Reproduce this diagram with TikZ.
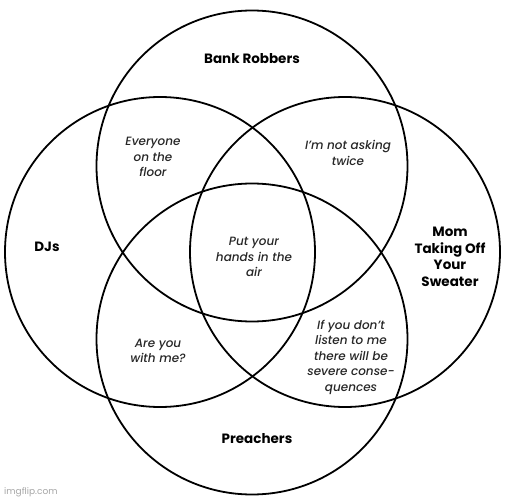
\documentclass[tikz,border=0pt]{standalone}
\usepackage{fontspec}
\setmainfont{Poppins}
\newfontfamily\zonefont{Poppins Medium Italic}
\begin{document}
\begin{tikzpicture}[x=1pt,y=-1pt,
  ring/.style={draw=black,line width=1.8pt},
  setlabel/.style={font=\fontsize{13.5}{16.5}\selectfont\bfseries,align=center,inner sep=0pt},
  zone/.style={font=\fontsize{12}{15.5}\zonefont,align=center,inner sep=0pt,text=black!85},
  wmark/.style={font=\fontsize{9}{11}\selectfont,text=black!35,inner sep=0pt}]
\useasboundingbox[fill=white] (0,0) rectangle (512,500);
\draw[ring] (252,166) circle[radius=155.5];
\draw[ring] (160,252) circle[radius=155];
\draw[ring] (345,252) circle[radius=155];
\draw[ring] (252,339) circle[radius=155.5];
\node[setlabel] (bank) at (252,59) {Bank Robbers};
\node[setlabel] (djs) at (47,247) {DJs};
\node[setlabel] (mom) at (450,257) {Mom\\Taking Off\\Your\\Sweater};
\node[setlabel] (preach) at (257,439) {Preachers};
\node[zone] (floor) at (153,157) {Everyone\\on the\\floor};
\node[zone] (twice) at (348,153) {I’m not asking\\twice};
\node[zone] (air) at (254,257) {Put your\\hands in the\\air};
\node[zone] (withme) at (158,351) {Are you\\with me?};
\node[zone] (conseq) at (351,357) {If you don’t\\listen to me\\there will be\\severe conse-\\quences};
\node[wmark,anchor=west] (imgflip) at (4,492) {imgflip.com};
\end{tikzpicture}
\end{document}
